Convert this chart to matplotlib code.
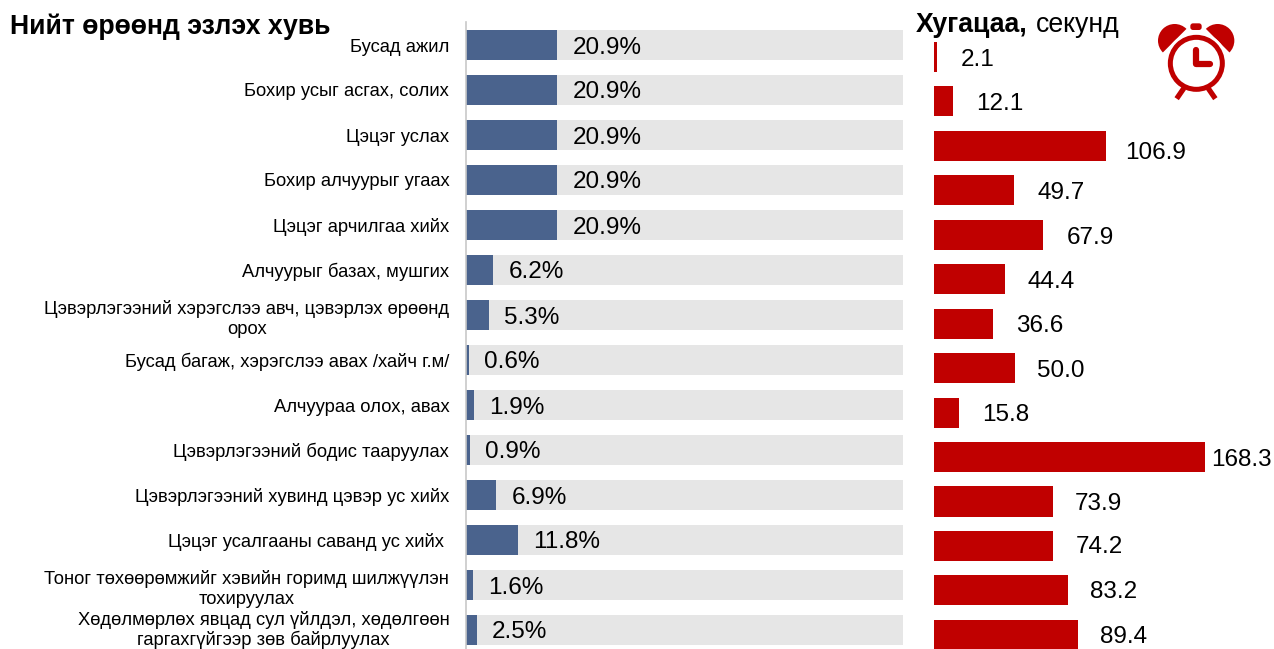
import matplotlib
matplotlib.use('Agg')
import matplotlib.pyplot as plt
from matplotlib.patches import Circle, Wedge, FancyBboxPatch
from matplotlib.transforms import ScaledTranslation

plt.rcParams['font.family'] = ['Liberation Sans', 'DejaVu Sans']

W, H = 1274, 649

tasks = [
    'Бусад ажил',
    'Бохир усыг асгах, солих',
    'Цэцэг услах',
    'Бохир алчуурыг угаах',
    'Цэцэг арчилгаа хийх',
    'Алчуурыг базах, мушгих',
    'Цэвэрлэгээний хэрэгслээ авч, цэвэрлэх өрөөнд\nорох',
    'Бусад багаж, хэрэгслээ авах /хайч г.м/',
    'Алчуураа олох, авах',
    'Цэвэрлэгээний бодис тааруулах',
    'Цэвэрлэгээний хувинд цэвэр ус хийх',
    'Цэцэг усалгааны саванд ус хийх ',
    'Тоног төхөөрөмжийг хэвийн горимд шилжүүлэн\nтохируулах',
    'Хөдөлмөрлөх явцад сул үйлдэл, хөдөлгөөн\nгаргахгүйгээр зөв байрлуулах',
]
shares = [20.9, 20.9, 20.9, 20.9, 20.9, 6.2, 5.3, 0.6, 1.9, 0.9, 6.9, 11.8, 1.6, 2.5]
seconds = [2.1, 12.1, 106.9, 49.7, 67.9, 44.4, 36.6, 50.0, 15.8, 168.3, 73.9, 74.2, 83.2, 89.4]

# the source places these labels by hand, pixel nudges from the bar end
sec_dx = [23, 23, 19, 23, 23, 22, 23, 22, 23, 6, 22, 22, 22, 22]
sec_dy = [-3, -2.5, -7, -2.6, -3.2, -2.7, -2.3, -2.8, -2.4, -3, -2.5, -1, -1.6, -2.1]

BLUE = '#4a638d'
GRAY = '#e6e6e6'
RED = '#c00000'


def px_axes(x0, y0, x1, y1):
    # axes from picture pixels, y measured from the top
    return fig.add_axes([x0 / W, 1 - y1 / H, (x1 - x0) / W, (y1 - y0) / H])


fig = plt.figure(figsize=(W / 100, H / 100), dpi=100)

# left panel
ax = px_axes(466, 22, 903, 649)
ypos = list(range(len(tasks)))
ax.barh(ypos, [100] * len(tasks), height=0.68, color=GRAY)
ax.barh(ypos, shares, height=0.68, color=BLUE)
ax.set_xlim(0, 100)
ax.set_ylim((649 - 45) / 45, (22 - 45) / 45)
ax.set_yticks(ypos)
labels = ax.set_yticklabels(tasks, fontsize=13.2, multialignment='center', linespacing=1.3)
ax.tick_params(axis='y', length=0, pad=12)
# last label runs into the bottom edge, lift it and close the lines up
labels[-1].set_linespacing(1.15)
labels[-1].set_transform(labels[-1].get_transform() + ScaledTranslation(0, 3 / 100, fig.dpi_scale_trans))
ax.set_xticks([])
for s in ['top', 'right', 'bottom']:
    ax.spines[s].set_visible(False)
ax.spines['left'].set_color('#c8c8c8')
ax.spines['left'].set_linewidth(1.2)
for y, v in zip(ypos, shares):
    ax.annotate(f'{v:.1f}%', (v, y), xytext=(11, -1.8), textcoords='offset points',
                ha='left', va='center', fontsize=17.5)

# right panel
ax2 = px_axes(934, 22, 1274, 649)
ax2.barh(ypos, seconds, height=0.675, color=RED)
ax2.set_xlim(0, 340 / 1.61)
ax2.set_ylim((649 - 57) / 44.45, (22 - 57) / 44.45)
ax2.axis('off')
for y, v, dx, dy in zip(ypos, seconds, sec_dx, sec_dy):
    ax2.annotate(f'{v:.1f}', (v, y), xytext=(dx * 0.72, dy * 0.72), textcoords='offset points',
                 ha='left', va='center', fontsize=17.5, annotation_clip=False)

# headings
fig.text(10 / W, 1 - 27 / H, 'Нийт өрөөнд эзлэх хувь', fontsize=19.2, fontweight='bold',
         ha='left', va='center')
fig.text(916 / W, 1 - 25 / H, 'Хугацаа,', fontsize=19.2, fontweight='bold',
         ha='left', va='center')
fig.text(1036 / W, 1 - 25 / H, 'секунд', fontsize=19.2, ha='left', va='center')

# alarm clock icon, axes in units of the 3x zoom crop
icon = px_axes(900 + 760 / 3, 60 / 3, 900 + 1020 / 3, 310 / 3)
icon.set_xlim(760, 1020)
icon.set_ylim(310, 60)
icon.axis('off')
icon.add_patch(Wedge((824, 122), 50, 135, 315, fc=RED, ec='none'))
icon.add_patch(Wedge((953, 122), 50, 225, 405, fc=RED, ec='none'))
icon.add_patch(Circle((889, 190), 94, fc='white', ec='none'))
icon.add_patch(Circle((889, 190), 78, fill=False, ec=RED, lw=3.6))
icon.add_patch(FancyBboxPatch((871, 70), 34, 20, boxstyle='round,pad=0,rounding_size=8',
                              fc=RED, ec='none'))
icon.plot([888, 888, 930], [150, 192, 192], color=RED, lw=4.5, solid_capstyle='round',
          solid_joinstyle='round')
icon.plot([852, 830], [264, 296], color=RED, lw=3.8, solid_capstyle='butt')
icon.plot([924, 946], [264, 296], color=RED, lw=3.8, solid_capstyle='butt')

fig.savefig('out.png', dpi=100)
